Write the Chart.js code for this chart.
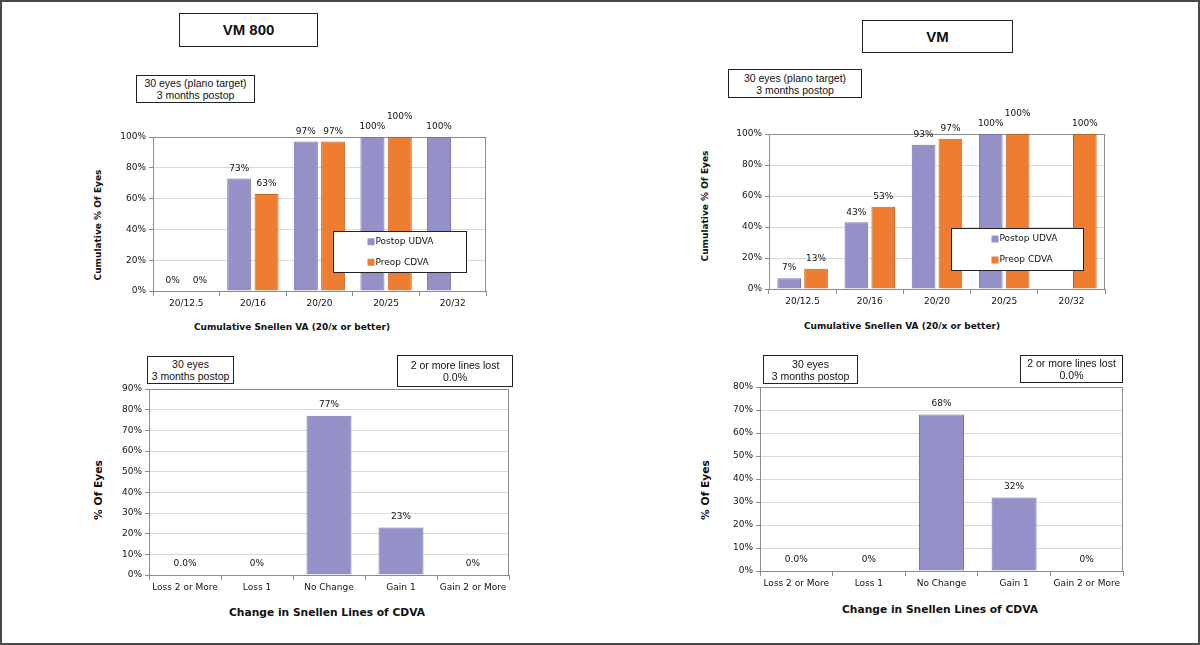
<!DOCTYPE html>
<html>
<head>
<meta charset="utf-8">
<script src="https://cdn.jsdelivr.net/npm/chart.js@4.4.1/dist/chart.umd.min.js"></script>
<style>
  body { margin: 0; background: #fff; }
  #page { position: relative; width: 1200px; height: 645px; background: #fff; overflow: hidden; }
  #frame { position: absolute; left: 0; top: 0; width: 1200px; height: 645px; box-sizing: border-box; border: 2px solid #4a4a4a; z-index: 5; pointer-events: none; }
  canvas { position: absolute; }
  .box { position: absolute; box-sizing: border-box; border: 1px solid #222; background: #fff; z-index: 2;
         font-family: "Liberation Sans", Arial, sans-serif; font-size: 10.5px; line-height: 12px; color: #111;
         text-align: center; display: flex; flex-direction: column; justify-content: center; }
  .ttl { font-weight: bold; font-size: 15px; }
  .axt { position: absolute; font-family: "DejaVu Sans", sans-serif; font-weight: bold; white-space: nowrap; color: #111;
         transform: translate(-50%, -50%); z-index: 2; }
  .rot { transform: translate(-50%, -50%) rotate(-90deg); }
</style>
</head>
<body>
<div id="page">
  <div id="frame"></div>

  <div class="box ttl" style="left:179px;top:13px;width:139px;height:34px">VM 800</div>
  <div class="box ttl" style="left:862px;top:20px;width:151px;height:33px">VM</div>

  <div class="box" style="left:136px;top:75px;width:119px;height:28px"><div>30 eyes (plano target)</div><div>3 months postop</div></div>
  <div class="box" style="left:728px;top:69px;width:134px;height:29px"><div>30 eyes (plano target)</div><div>3 months postop</div></div>
  <div class="box" style="left:147px;top:356px;width:87px;height:28px"><div>30 eyes</div><div>3 months postop</div></div>
  <div class="box" style="left:397px;top:355px;width:116px;height:32px"><div>2 or more lines lost</div><div>0.0%</div></div>
  <div class="box" style="left:763px;top:355px;width:95px;height:29px"><div>30 eyes</div><div>3 months postop</div></div>
  <div class="box" style="left:1020px;top:355px;width:103px;height:28px"><div>2 or more lines lost</div><div>0.0%</div></div>

  <div class="axt" style="left:292px;top:327px;font-size:9px">Cumulative Snellen VA (20/x or better)</div>
  <div class="axt" style="left:902px;top:326px;font-size:9px">Cumulative Snellen VA (20/x or better)</div>
  <div class="axt rot" style="left:98px;top:225px;font-size:9px">Cumulative % Of Eyes</div>
  <div class="axt rot" style="left:705px;top:206px;font-size:9px">Cumulative % Of Eyes</div>
  <div class="axt" style="left:327px;top:612px;font-size:10.7px">Change in Snellen Lines of CDVA</div>
  <div class="axt" style="left:940px;top:609px;font-size:10.7px">Change in Snellen Lines of CDVA</div>
  <div class="axt rot" style="left:98px;top:490px;font-size:10.7px">% Of Eyes</div>
  <div class="axt rot" style="left:705px;top:490px;font-size:10.7px">% Of Eyes</div>

  <canvas id="c1"></canvas>
  <canvas id="c2"></canvas>
  <canvas id="c3"></canvas>
  <canvas id="c4"></canvas>
</div>

<script>
// data
const vaCats = ['20/12.5', '20/16', '20/20', '20/25', '20/32'];
const seriesNames = ['Postop UDVA', 'Preop CDVA'];
const vm800Udva = [0, 73, 97, 100, 100];
const vm800Cdva = [0, 63, 97, 100, null];
const vmUdva = [7, 43, 93, 100, null];
const vmCdva = [13, 53, 97, 100, 100];

const lineCats = ['Loss 2 or More', 'Loss 1', 'No Change', 'Gain 1', 'Gain 2 or More'];
const vm800Lines = [0, 0, 77, 23, 0];
const vmLines = [0, 0, 68, 32, 0];

const PURPLE = '#9491c9', PURPLE_EDGE = '#7674ab';
const ORANGE = '#ee7d31', ORANGE_EDGE = '#c2601e';

Chart.defaults.font.family = '"DejaVu Sans", sans-serif';
Chart.defaults.font.size = 9;
Chart.defaults.color = '#111';

// value labels above bars, bumped up when two labels collide
const barLabels = {
  id: 'barLabels',
  afterDatasetsDraw(chart, args, opts) {
    const ctx = chart.ctx;
    ctx.save();
    ctx.font = '9px "DejaVu Sans"';
    ctx.fillStyle = '#111';
    ctx.textAlign = 'center';
    ctx.textBaseline = 'middle';
    const placed = [];
    chart.data.datasets.forEach((ds, di) => {
      chart.getDatasetMeta(di).data.forEach((bar, i) => {
        const v = ds.data[i];
        if (v === null) return;
        const txt = opts.format(v, i);
        const w = ctx.measureText(txt).width;
        let y = bar.y - opts.offset;
        placed.forEach(p => {
          if (p.i === i && Math.abs(p.x - bar.x) < (p.w + w) / 2 + 2 && Math.abs(p.y - y) < 10) y = p.y - 10;
        });
        placed.push({ i, x: bar.x, y, w });
        ctx.fillText(txt, bar.x, y);
      });
    });
    ctx.restore();
  }
};

// grey frame round the plot area
const plotFrame = {
  id: 'plotFrame',
  beforeDatasetsDraw(chart) {
    const a = chart.chartArea, ctx = chart.ctx;
    ctx.save();
    ctx.strokeStyle = '#8c8c8c';
    ctx.lineWidth = 1;
    ctx.strokeRect(Math.round(a.left) + 0.5, Math.round(a.top) + 0.5, Math.round(a.width) - 1, Math.round(a.height));
    ctx.restore();
  }
};

// boxed legend sitting inside the plot
const boxLegend = {
  id: 'boxLegend',
  afterDatasetsDraw(chart, args, o) {
    if (!o.w) return;
    const a = chart.chartArea, ctx = chart.ctx;
    const x = Math.round(a.left + o.x) + 0.5, y = Math.round(a.top + o.y) + 0.5;
    ctx.save();
    ctx.fillStyle = '#fff';
    ctx.fillRect(x, y, o.w, o.h);
    ctx.strokeStyle = '#222';
    ctx.lineWidth = 1;
    ctx.strokeRect(x, y, o.w, o.h);
    ctx.font = '9px "DejaVu Sans"';
    ctx.textBaseline = 'middle';
    ctx.textAlign = 'left';
    chart.data.datasets.forEach((ds, i) => {
      const cy = y + o.h / 4 + i * o.h / 2;
      ctx.fillStyle = ds.backgroundColor;
      ctx.fillRect(x + o.mx, cy - 3.5, 7, 7);
      ctx.fillStyle = '#111';
      ctx.fillText(ds.label, x + o.mx + 8, cy);
    });
    ctx.restore();
  }
};

// box = canvas [left, top, width, height], area = plot [left, top, right, bottom], page coords
function makeChart(id, box, area, datasets, labels, yMax, yStep, extra) {
  const el = document.getElementById(id);
  el.style.left = box[0] + 'px';
  el.style.top = box[1] + 'px';
  el.width = box[2];
  el.height = box[3];
  return new Chart(el, {
    type: 'bar',
    data: { labels: labels, datasets: datasets },
    plugins: [plotFrame, barLabels, boxLegend],
    options: {
      responsive: false,
      animation: false,
      categoryPercentage: extra.cat,
      barPercentage: extra.bar,
      layout: { padding: { left: 0, top: area[1] - box[1], right: box[0] + box[2] - area[2], bottom: 0 } },
      plugins: {
        legend: { display: false },
        tooltip: { enabled: false },
        barLabels: { format: extra.format, offset: extra.offset },
        boxLegend: extra.legend || {}
      },
      scales: {
        x: {
          grid: { offset: true, drawOnChartArea: false, tickLength: 5, color: '#8c8c8c' },
          border: { display: false },
          ticks: { padding: 2, maxRotation: 0, autoSkip: false, color: '#111' },
          afterFit: s => { s.height = box[1] + box[3] - area[3]; }
        },
        y: {
          min: 0,
          max: yMax,
          ticks: { stepSize: yStep, padding: 3, color: '#111', callback: v => v + '%' },
          grid: { color: '#d9d9d9', tickColor: '#8c8c8c', tickLength: 4 },
          border: { display: false },
          afterFit: s => { s.width = area[0] - box[0]; }
        }
      }
    }
  });
}

function pairSets(a, b) {
  return [
    { label: seriesNames[0], data: a, backgroundColor: PURPLE, borderColor: PURPLE_EDGE, borderWidth: 1 },
    { label: seriesNames[1], data: b, backgroundColor: ORANGE, borderColor: ORANGE_EDGE, borderWidth: 1 }
  ];
}
function singleSet(a) {
  return [{ label: '% Of Eyes', data: a, backgroundColor: PURPLE, borderColor: PURPLE_EDGE, borderWidth: 1 }];
}

const pct = v => Math.round(v) + '%';
const pctFirst = (v, i) => i === 0 ? v.toFixed(1) + '%' : Math.round(v) + '%';

makeChart('c1', [105, 105, 395, 213], [153, 137, 486, 291], pairSets(vm800Udva, vm800Cdva), vaCats, 100, 20,
  { cat: 0.82, bar: 0.88, format: pct, offset: 10, legend: { x: 180, y: 94, w: 133, h: 41, mx: 34 } });

makeChart('c2', [715, 100, 405, 215], [769, 134, 1105, 289], pairSets(vmUdva, vmCdva), vaCats, 100, 20,
  { cat: 0.8, bar: 0.88, format: pct, offset: 10, legend: { x: 182, y: 94, w: 132, h: 42, mx: 40 } });

makeChart('c3', [105, 380, 420, 220], [149, 389, 509, 575], singleSet(vm800Lines), lineCats, 90, 10,
  { cat: 1, bar: 0.625, format: pctFirst, offset: 11 });

makeChart('c4', [712, 378, 423, 220], [760, 387, 1123, 571], singleSet(vmLines), lineCats, 80, 10,
  { cat: 1, bar: 0.62, format: pctFirst, offset: 11 });
</script>
</body>
</html>
